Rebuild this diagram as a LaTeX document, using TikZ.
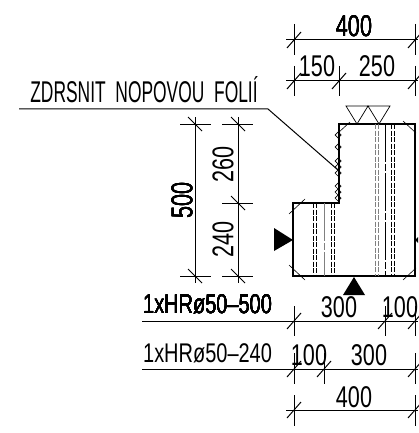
\documentclass[tikz,border=0pt]{standalone}
\usepackage{fontspec}
\setmainfont{Liberation Sans}
\tikzset{
  cota/.style={line width=1pt},
  outline/.style={line width=2pt},
  rebar/.style={line width=1pt,dash pattern=on 5pt off 1.5pt},
  axisline/.style={line width=1pt,dash pattern=on 38pt off 2pt on 7pt off 2pt},
  dimtext/.style={inner sep=0pt,transform shape,xscale=0.72,font=\fontsize{30}{30}\selectfont},
  bartext/.style={inner sep=0pt,transform shape,xscale=0.74,font=\fontsize{27}{27}\selectfont},
}
% slash and backslash ticks of the dimension lines
\newcommand{\tickh}[2]{\draw[cota] (#1-7,#2+8) -- (#1+7,#2-8);}
\newcommand{\tickv}[2]{\draw[cota] (#1-7,#2-7) -- (#1+7,#2+7);}
\begin{document}
\begin{tikzpicture}[x=1pt,y=-1pt]
  \useasboundingbox (0,0) rectangle (418,433);
  % top dimensions
  \draw[cota] (286,40) -- (418,40);
  \draw[cota] (286,81) -- (418,81);
  \draw[cota] (294,24) -- (294,55);
  \draw[cota] (415,24) -- (415,55);
  \draw[cota] (294,66) -- (294,96);
  \draw[cota] (339,66) -- (339,96);
  \draw[cota] (415,66) -- (415,96);
  \foreach \xa/\ya in {294/40,415/40,294/81,339/81,415/81}
    \tickh{\xa}{\ya}
  \node[dimtext] (top400) at (354,26) {400};
  \node[dimtext] (top150) at (317,66) {150};
  \node[dimtext] (top250) at (377,66) {250};
  % note
  \node[dimtext,xscale=0.806] (note) at (144,90) {ZDRSNIT\ \ NOPOVOU\ \ FOLIÍ};
  \draw[cota] (19,109) -- (268,109) -- (338,170);
  % left dimensions
  \draw[cota] (195,117) -- (195,283);
  \draw[cota] (238,117) -- (238,283);
  \draw[cota] (180,124) -- (211,124);
  \draw[cota] (180,276) -- (211,276);
  \draw[cota] (222,124) -- (253,124);
  \draw[cota] (222,203) -- (253,203);
  \draw[cota] (222,276) -- (253,276);
  \foreach \xa/\ya in {195/124,195/276,238/124,238/203,238/276}
    \tickv{\xa}{\ya}
  \node[rotate=90,dimtext] (left500) at (182,200) {500};
  \node[rotate=90,dimtext] (left260) at (223,164) {260};
  \node[rotate=90,dimtext] (left240) at (223,239) {240};
  % section
  \draw[outline] (339,124) -- (415,124) -- (415,276) -- (293,276)
    -- (293,203) -- (339,203) -- cycle;
  \draw[rebar,gray] (375,124) -- (375,276);
  \draw[rebar,gray] (378,124) -- (378,276);
  \draw[axisline] (385,124) -- (385,276);
  \draw[rebar] (391.5,124) -- (391.5,276);
  \draw[rebar] (394.5,124) -- (394.5,276);
  \draw[rebar] (313.5,203) -- (313.5,276);
  \draw[rebar] (316.5,203) -- (316.5,276);
  \draw[axisline,gray] (324,203) -- (324,276);
  \draw[rebar] (331.5,203) -- (331.5,276);
  \draw[rebar] (334.5,203) -- (334.5,276);
  % corners
  \draw[line width=0.6pt] (338,133) -- (350,122);
  \draw[line width=0.6pt] (403,121) -- (416,133);
  \draw[line width=0.6pt] (403,280) -- (416,268);
  \draw[line width=0.6pt] (289,265) -- (305,280);
  \draw[line width=0.6pt] (289,214) -- (305,199);
  % rough joint
  \foreach \ya in {135,147,161,167,173,186,192,198}
    \draw[line width=0.7pt] (338,\ya-3) -- (335,\ya) -- (338,\ya+3) -- (341,\ya) -- cycle;
  % marks
  \draw[line width=0.7pt] (346,106) -- (368,106) -- (357,124) -- cycle;
  \draw[line width=0.7pt] (368,106) -- (390,106) -- (379,124) -- cycle;
  \fill (274,228) -- (293,240) -- (274,251) -- cycle;
  \fill (354,277) -- (365,295) -- (343,295) -- cycle;
  \fill (415,240) -- (418,237) -- (418,243) -- cycle;
  % bottom dimensions
  \draw[cota] (142,321) -- (418,321);
  \draw[cota] (142,369) -- (418,369);
  \draw[cota] (286,410) -- (418,410);
  \foreach \xa in {294,385,415}
    \draw[cota] (\xa,306) -- (\xa,336);
  \foreach \xa in {294,324,415}
    \draw[cota] (\xa,353) -- (\xa,384);
  \foreach \xa in {294,415}
    \draw[cota] (\xa,395) -- (\xa,426);
  \foreach \xa/\ya in {294/321,385/321,415/321,294/369,324/369,415/369,294/410,415/410}
    \tickh{\xa}{\ya}
  \node[bartext,anchor=west] (bar500) at (143,304) {1xHRø50–500};
  \node[bartext,anchor=west] (bar240) at (143,353) {1xHRø50–240};
  \node[dimtext] (row300) at (339,307) {300};
  \node[dimtext] (row100) at (400,307) {100};
  \node[dimtext] (low100) at (309,355) {100};
  \node[dimtext] (low300) at (369,355) {300};
  \node[dimtext] (low400) at (354,397) {400};
\end{tikzpicture}
\end{document}
